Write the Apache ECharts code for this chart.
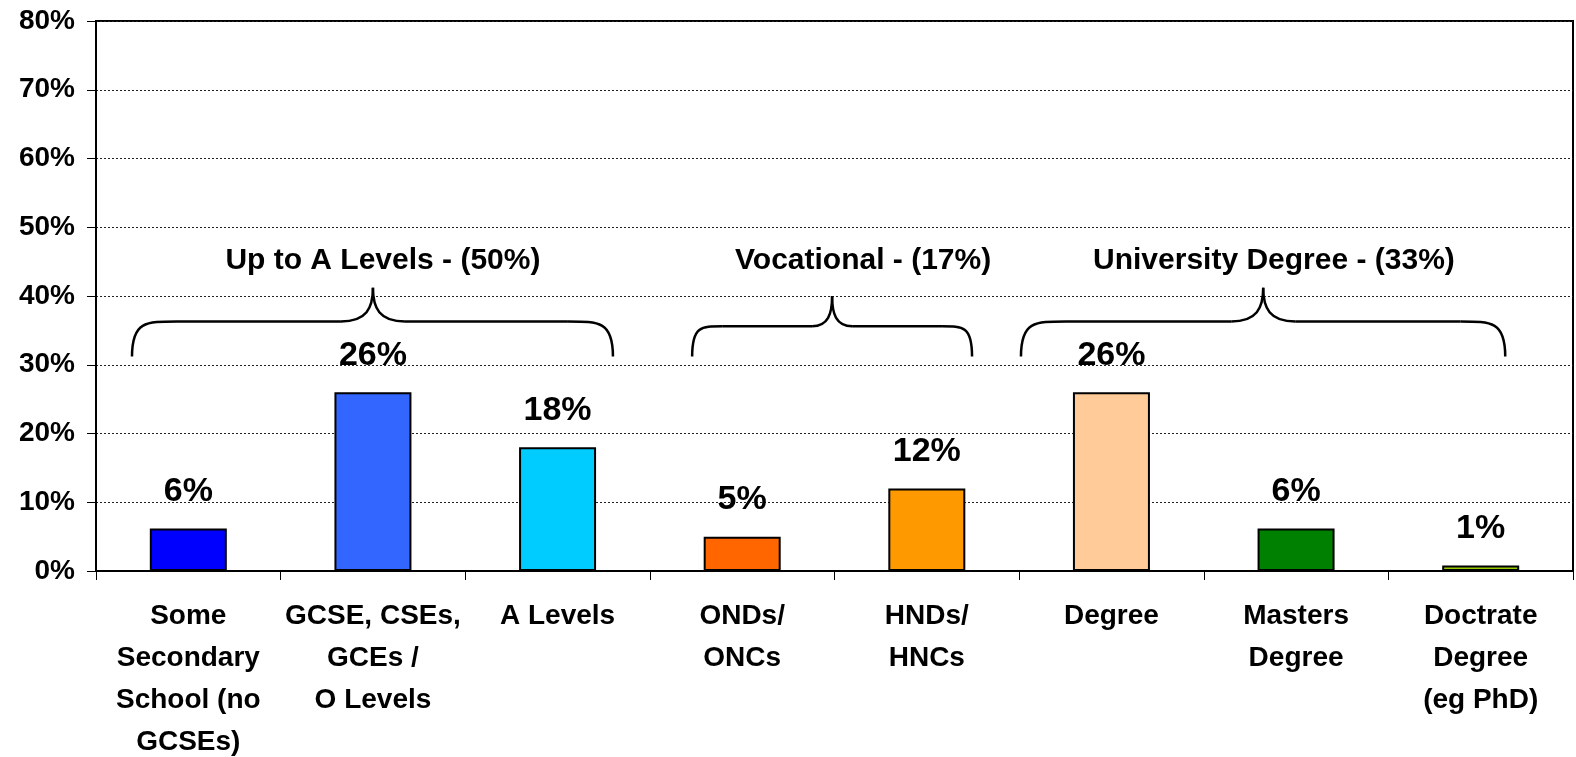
<!DOCTYPE html>
<html>
<head>
<meta charset="utf-8">
<title>Qualifications</title>
<script src="https://cdn.jsdelivr.net/npm/echarts@6/dist/echarts.min.js"></script>
<style>
  html, body { margin: 0; padding: 0; background: #fff; }
  #chart { width: 1576px; height: 757px; }
</style>
</head>
<body>
<div id="chart"></div>
<script>
// data
const categories = [
  'Some\nSecondary\nSchool (no\nGCSEs)',
  'GCSE, CSEs,\nGCEs /\nO Levels',
  'A Levels',
  'ONDs/\nONCs',
  'HNDs/\nHNCs',
  'Degree',
  'Masters\nDegree',
  'Doctrate\nDegree\n(eg PhD)'
]
const values = [6.2, 26, 18, 5, 12, 26, 6.2, 0.8]
const barColors = ['#0000ff', '#3366ff', '#00ccff', '#ff6600', '#ff9900', '#ffcc99', '#008000', '#99cc00']
const yTicks = [0, 10, 20, 30, 40, 50, 60, 70, 80]

// group braces: span in category index, peak/label position, levels in %
const groupNames = ['Up to A Levels - (50%)', 'Vocational - (17%)', 'University Degree - (33%)']
const groupFrom = [-0.305, 2.729, 4.51]
const groupTo = [2.30, 4.245, 7.133]
const groupPeak = [1.0, 3.487, 5.822]
const groupLabelAt = [1.054, 3.655, 5.88]

const FONT = '"Liberation Sans", Arial, sans-serif'

const chart = echarts.init(document.getElementById('chart'))

chart.setOption({
  animation: false,
  grid: {
    left: 96,
    right: 3,
    top: 21,
    bottom: 186,
    outerBoundsMode: 'none',
    containLabel: false,
    show: true,
    borderColor: '#000',
    borderWidth: 2
  },
  xAxis: {
    type: 'category',
    data: categories,
    axisLine: { lineStyle: { color: '#000', width: 2 } },
    axisTick: { show: true, length: 9, lineStyle: { color: '#000', width: 1 } },
    axisLabel: {
      interval: 0,
      margin: 24,
      color: '#000',
      fontFamily: FONT,
      fontWeight: 'bold',
      fontSize: 28,
      lineHeight: 42
    }
  },
  yAxis: {
    type: 'value',
    min: yTicks[0],
    max: yTicks[yTicks.length - 1],
    interval: 10,
    axisLine: { show: true, lineStyle: { color: '#000', width: 2 } },
    axisTick: { show: true, length: 9, lineStyle: { color: '#000', width: 1 } },
    axisLabel: {
      formatter: '{value}%',
      margin: 21,
      color: '#000',
      fontFamily: FONT,
      fontWeight: 'bold',
      fontSize: 28
    },
    splitLine: { lineStyle: { color: '#222', width: 1, type: [2, 2] } }
  },
  series: [{
    type: 'bar',
    barWidth: 77,
    data: values.map((v, i) => ({
      value: v,
      itemStyle: { color: barColors[i] }
    })),
    itemStyle: { borderColor: '#000', borderWidth: 2 },
    label: {
      show: true,
      position: 'top',
      distance: 20,
      formatter: p => Math.round(p.value) + '%',
      color: '#000',
      fontFamily: FONT,
      fontWeight: 'bold',
      fontSize: 34
    }
  }]
})

// braces + group titles, placed through the axes
function catX(i) {
  const x0 = chart.convertToPixel({ xAxisIndex: 0 }, 0)
  const x1 = chart.convertToPixel({ xAxisIndex: 0 }, 1)
  return x0 + (x1 - x0) * i
}
function valY(v) {
  return chart.convertToPixel({ yAxisIndex: 0 }, v)
}

const stroke = { stroke: '#000', lineWidth: 2.5, fill: null }
const graphics = []

groupNames.forEach((name, g) => {
  const small = g === 1
  const xl = catX(groupFrom[g])
  const xr = catX(groupTo[g])
  const xp = catX(groupPeak[g])
  const yEnd = valY(31.2)
  const yH = valY(small ? 35.6 : 36.3)
  const yP = valY(small ? 40.0 : 41.2)
  const r = small ? 30 : 45
  const rp = small ? 20 : 32

  // left end curl
  graphics.push({ type: 'bezierCurve', silent: true, shape: { x1: xl, y1: yEnd, cpx1: xl, cpy1: yH, cpx2: xl + r * 0.3, cpy2: yH, x2: xl + r, y2: yH }, style: stroke })
  graphics.push({ type: 'line', silent: true, shape: { x1: xl + r, y1: yH, x2: xp - rp, y2: yH }, style: stroke })
  // peak
  graphics.push({ type: 'bezierCurve', silent: true, shape: { x1: xp - rp, y1: yH, cpx1: xp - rp * 0.2, cpy1: yH, cpx2: xp, cpy2: yH - (yH - yP) * 0.4, x2: xp, y2: yP }, style: stroke })
  graphics.push({ type: 'bezierCurve', silent: true, shape: { x1: xp + rp, y1: yH, cpx1: xp + rp * 0.2, cpy1: yH, cpx2: xp, cpy2: yH - (yH - yP) * 0.4, x2: xp, y2: yP }, style: stroke })
  graphics.push({ type: 'line', silent: true, shape: { x1: xp + rp, y1: yH, x2: xr - r, y2: yH }, style: stroke })
  // right end curl
  graphics.push({ type: 'bezierCurve', silent: true, shape: { x1: xr, y1: yEnd, cpx1: xr, cpy1: yH, cpx2: xr - r * 0.3, cpy2: yH, x2: xr - r, y2: yH }, style: stroke })

  graphics.push({
    type: 'text',
    silent: true,
    x: catX(groupLabelAt[g]),
    y: valY(45.2),
    style: {
      text: name,
      align: 'center',
      verticalAlign: 'middle',
      fill: '#000',
      font: 'bold 30px ' + FONT
    }
  })
})

chart.setOption({ graphic: graphics })
</script>
</body>
</html>
